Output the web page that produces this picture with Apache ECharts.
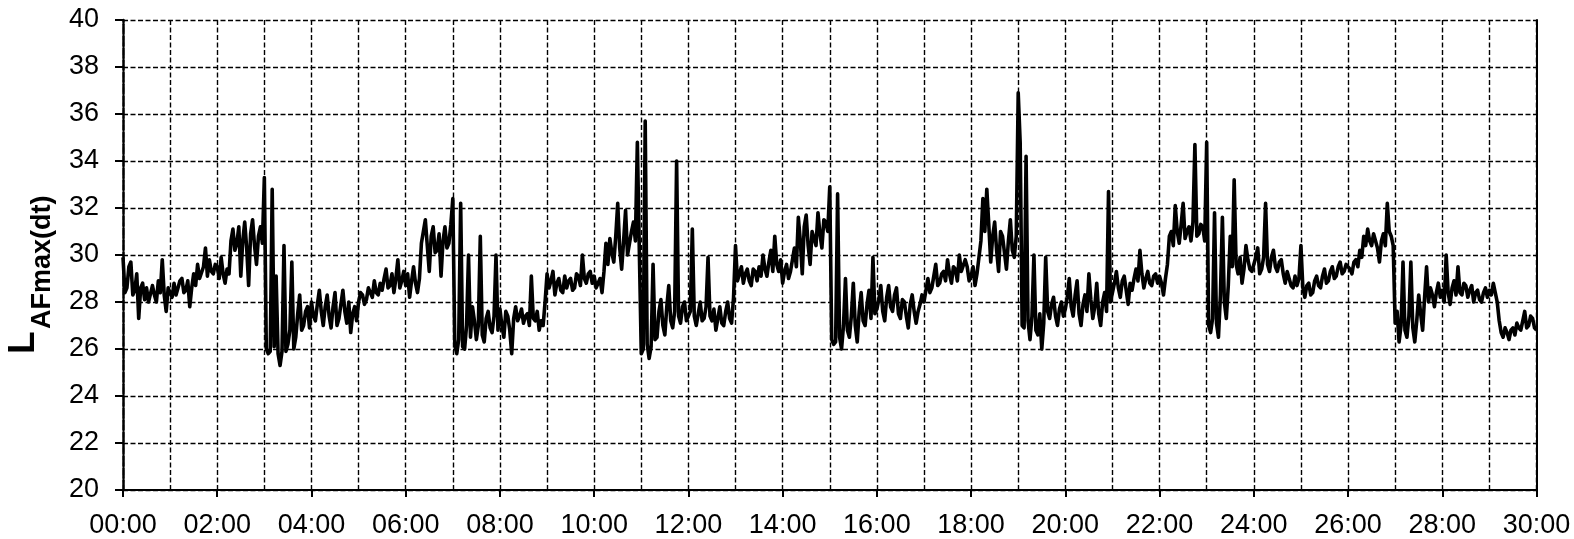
<!DOCTYPE html>
<html>
<head>
<meta charset="utf-8">
<script src="https://cdn.jsdelivr.net/npm/echarts/dist/echarts.min.js"></script>
<style>
html,body{margin:0;padding:0;background:#fff;}
#chart{width:1574px;height:539px;}
</style>
</head>
<body>
<div id="chart"></div>
<script>
// Sampling step of the series (seconds between readings)
const SAMPLE_SECONDS = 2.5;

// LAFmax(dt) readings, 24 per minute, grouped in 5-minute blocks (one row per minute)
const lv_00_05 = [
  29.9,28.4, 28.6,29.5, 29.7,28.3, 28.5,29.2, 27.3,28.6, 28.8,28.1, 28.6,28.0, 28.0,28.7, 28.3,28.0, 28.9,28.4, 29.8,28.3, 27.6,28.6,
  28.4,28.2, 28.8,28.3, 28.6,28.9, 29.0,28.4, 28.5,28.9, 27.8,28.6, 29.2,28.7, 29.6,29.0, 29.0,29.5, 30.3,29.1, 29.8,29.3, 29.2,29.6,
  29.5,29.0, 29.9,29.2, 28.8,29.4, 29.2,30.6, 31.1,30.2, 30.5,31.2, 29.1,30.6, 31.4,30.3, 28.7,30.9, 31.5,30.4, 29.6,30.8, 31.2,30.5,
  33.3,26.0, 25.8,25.9, 32.8,26.1, 29.1,25.8, 25.3,25.9, 30.4,25.9, 26.2,26.8, 29.7,26.0, 26.5,27.5, 28.3,26.8, 27.0,27.6, 27.8,26.9,
  28.0,27.4, 27.2,27.9, 28.5,27.6, 27.0,27.8, 28.3,27.4, 26.9,27.8, 28.4,27.0, 27.3,27.9, 28.5,27.6, 27.1,28.0, 26.7,27.5, 27.8,27.2
];
const lv_05_10 = [
  28.0,28.4, 28.3,27.9, 28.1,28.6, 28.6,28.2, 28.9,28.4, 28.3,28.8, 28.5,29.0, 29.4,28.6, 28.7,29.2, 28.4,29.0, 29.8,28.6, 28.9,29.3,
  28.7,29.2, 28.2,28.9, 29.5,28.8, 28.4,29.0, 30.5,31.0, 31.5,30.4, 29.3,30.8, 31.2,30.1, 30.2,30.9, 29.1,30.6, 31.2,30.3, 30.5,31.3,
  32.4,26.2, 25.8,26.4, 32.2,26.1, 26.0,27.0, 30.0,26.5, 27.8,27.2, 26.4,27.0, 30.8,26.6, 26.3,27.3, 27.6,26.9, 26.7,27.4, 30.0,26.8,
  27.7,27.0, 26.5,27.6, 27.4,26.8, 25.8,27.3, 27.8,27.2, 27.4,27.7, 27.1,27.4, 27.5,27.0, 29.1,27.3, 27.2,27.6, 26.8,27.2, 27.0,28.0,
  29.2,28.6, 28.9,29.3, 28.3,28.8, 29.0,28.5, 28.4,29.1, 28.6,28.9, 29.0,28.5, 28.6,29.2, 29.1,28.7, 30.0,29.0, 28.8,29.2, 29.3,28.8
];
const lv_10_15 = [
  29.1,28.6, 28.8,29.0, 28.4,29.3, 30.5,29.6, 30.7,30.1, 29.7,30.8, 32.2,30.3, 29.4,30.6, 31.9,30.0, 30.5,31.0, 31.4,30.6, 34.8,30.2,
  25.8,26.0, 35.7,26.2, 25.6,26.1, 29.6,26.4, 26.5,27.6, 28.1,27.0, 26.6,27.8, 28.7,27.2, 26.9,27.6, 34.0,27.4, 27.1,27.8, 28.0,27.2,
  27.2,27.6, 31.1,27.4, 27.0,27.5, 28.0,27.2, 27.3,27.8, 29.9,27.4, 27.2,27.7, 26.8,27.3, 27.8,27.1, 27.0,27.6, 28.0,27.3, 27.1,28.2,
  30.4,28.9, 29.2,29.5, 28.8,29.2, 29.4,28.9, 28.7,29.4, 29.3,28.9, 29.5,29.1, 30.0,29.4, 29.1,29.7, 30.2,29.3, 30.8,29.6, 29.3,29.8,
  28.8,29.3, 29.6,29.0, 29.3,29.8, 30.3,29.5, 31.6,30.6, 29.2,31.2, 31.7,30.4, 29.6,31.0, 31.0,30.4, 31.8,30.9, 30.3,31.5, 31.4,31.0
];
const lv_15_20 = [
  32.9,26.4, 26.2,26.3, 32.6,26.5, 26.0,27.0, 29.0,26.8, 26.5,27.4, 28.8,27.0, 26.3,27.6, 28.4,27.2, 27.0,27.9, 28.5,27.3, 29.9,27.5,
  27.7,28.1, 28.7,27.6, 27.2,28.2, 28.7,27.8, 27.6,28.3, 28.6,27.5, 27.3,28.1, 28.0,27.4, 26.9,27.9, 28.3,27.6, 27.1,27.6, 27.9,28.3,
  28.0,28.5, 29.0,28.4, 28.6,29.1, 29.6,28.7, 28.8,29.2, 29.3,28.9, 29.8,29.2, 28.8,29.5, 29.4,28.9, 30.0,29.3, 29.3,29.8, 29.5,28.9,
  29.1,29.5, 28.7,29.2, 29.9,30.6, 32.4,31.0, 32.8,31.3, 29.7,30.8, 31.4,30.2, 29.3,31.0, 30.8,30.1, 29.4,30.6, 31.5,30.2, 29.9,30.8,
  36.9,34.8, 27.0,26.9, 34.2,27.2, 26.4,27.4, 30.0,26.8, 26.6,27.5, 26.0,27.1, 29.9,27.6, 27.3,27.9, 28.2,27.4, 27.0,27.7, 28.0,27.4
];
const lv_20_25 = [
  27.7,28.2, 29.0,27.8, 27.4,28.3, 28.9,27.5, 27.0,27.9, 28.3,27.6, 29.2,28.1, 27.3,27.8, 28.8,27.5, 27.0,28.0, 28.4,27.6, 32.7,28.0,
  28.4,28.8, 29.3,28.6, 28.2,28.9, 29.1,28.5, 27.9,28.8, 28.5,29.0, 29.4,28.9, 30.2,29.2, 28.6,29.0, 29.3,28.8, 28.7,29.1, 29.2,28.8,
  29.1,28.8, 28.3,29.0, 29.6,30.8, 31.0,30.4, 32.1,31.0, 30.5,31.3, 32.2,30.7, 31.0,31.2, 30.6,31.4, 34.7,30.8, 30.9,31.3, 31.2,30.6,
  34.8,27.0, 26.7,27.3, 31.8,27.1, 26.5,28.3, 31.6,28.0, 27.3,28.7, 30.8,29.5, 33.2,29.6, 29.2,29.9, 28.8,29.4, 30.4,29.8, 29.4,29.3,
  29.6,29.9, 30.3,29.2, 29.4,29.9, 32.2,29.6, 29.3,29.9, 30.2,29.5, 29.3,29.7, 29.8,29.2, 28.8,29.3, 29.0,28.7, 28.6,29.1, 28.7,29.0
];
const lv_25_30 = [
  30.4,28.6, 28.2,28.7, 28.8,28.3, 28.4,28.9, 29.1,28.7, 28.6,29.1, 29.4,28.8, 28.9,29.3, 29.5,29.0, 29.1,29.5, 29.7,29.2, 29.3,29.6,
  29.6,29.4, 29.2,29.7, 29.8,29.5, 30.2,29.9, 30.8,30.4, 31.1,30.6, 30.4,30.9, 30.9,30.3, 29.7,30.6, 30.9,30.4, 32.2,31.0, 30.8,30.4,
  27.1,27.6, 26.3,27.0, 29.7,26.8, 26.5,27.4, 29.7,26.9, 26.3,27.2, 28.3,27.5, 26.8,28.2, 29.5,28.0, 28.6,28.3, 27.8,28.4, 28.8,28.2,
  28.5,28.0, 30.0,28.4, 27.9,28.6, 28.9,28.3, 29.5,28.4, 28.3,28.8, 28.7,28.2, 28.5,28.7, 28.0,28.4, 28.5,28.1, 28.0,28.4, 28.6,28.2,
  28.5,28.3, 28.8,28.4, 28.0,27.2, 26.7,26.5, 26.9,26.7, 26.4,26.8, 26.9,26.6, 27.1,26.9, 26.8,27.2, 27.6,26.9, 27.0,27.4, 27.3,26.9
];
const lv_end = [26.8];

// Axis settings
const xMin = 0, xMax = 30, xStep = 2;   // minutes
const yMin = 20, yMax = 40, yStep = 2;  // dB
const yTitleMain = 'L';
const yTitleSub = 'AFmax(dt)';

const levels = [].concat(lv_00_05, lv_05_10, lv_10_15, lv_15_20, lv_20_25, lv_25_30, lv_end);
const seriesData = levels.map((v, i) => [i * SAMPLE_SECONDS / 60, v]);

const FONT = '"Liberation Sans", Arial, Helvetica, sans-serif';
const gridDash = { color: '#000', width: 1.4, type: [5, 2.5] };

const chart = echarts.init(document.getElementById('chart'), null, { renderer: 'canvas' });
chart.setOption({
  animation: false,
  backgroundColor: '#fff',
  grid: { left: 123, right: 37.5, top: 20, bottom: 49, containLabel: false },
  xAxis: {
    type: 'value', min: xMin, max: xMax, interval: xStep,
    axisLine: { show: true, onZero: false, lineStyle: { color: '#000', width: 2 } },
    axisTick: { show: true, length: 7, lineStyle: { color: '#000', width: 2 } },
    axisLabel: {
      color: '#000', fontSize: 27, fontFamily: FONT, margin: 22,
      formatter: v => String(Math.round(v)).padStart(2, '0') + ':00'
    },
    splitLine: { show: true, lineStyle: gridDash },
    minorTick: { show: false, splitNumber: 2 },
    minorSplitLine: { show: true, lineStyle: gridDash }
  },
  yAxis: [{
    type: 'value', min: yMin, max: yMax, interval: yStep,
    axisLine: { show: true, onZero: false, lineStyle: { color: '#000', width: 2.5, type: [10, 2] } },
    axisTick: { show: true, length: 8, lineStyle: { color: '#000', width: 2 } },
    axisLabel: { color: '#000', fontSize: 27, fontFamily: FONT, margin: 24 },
    splitLine: { show: true, lineStyle: gridDash }
  }, {
    type: 'value', min: yMin, max: yMax, interval: yStep, position: 'right',
    axisLine: { show: true, onZero: false, lineStyle: { color: '#000', width: 2 } },
    axisTick: { show: false }, axisLabel: { show: false }, splitLine: { show: false }
  }],
  graphic: [{
    type: 'group', x: 24, y: 354, rotation: Math.PI / 2,
    children: [
      { type: 'text', x: 0, y: 0,
        style: { text: yTitleMain, font: 'bold 37px ' + FONT, fill: '#000', textAlign: 'left', textVerticalAlign: 'middle' } },
      { type: 'text', x: 25, y: 19,
        style: { text: yTitleSub, font: 'bold 27px ' + FONT, fill: '#000', textAlign: 'left', textVerticalAlign: 'middle' } }
    ]
  }],
  series: [{
    type: 'line', data: seriesData, yAxisIndex: 0,
    showSymbol: false, symbol: 'none', clip: true,
    lineStyle: { color: '#000', width: 3.6, join: 'round' },
    z: 5
  }]
});
</script>
</body>
</html>
